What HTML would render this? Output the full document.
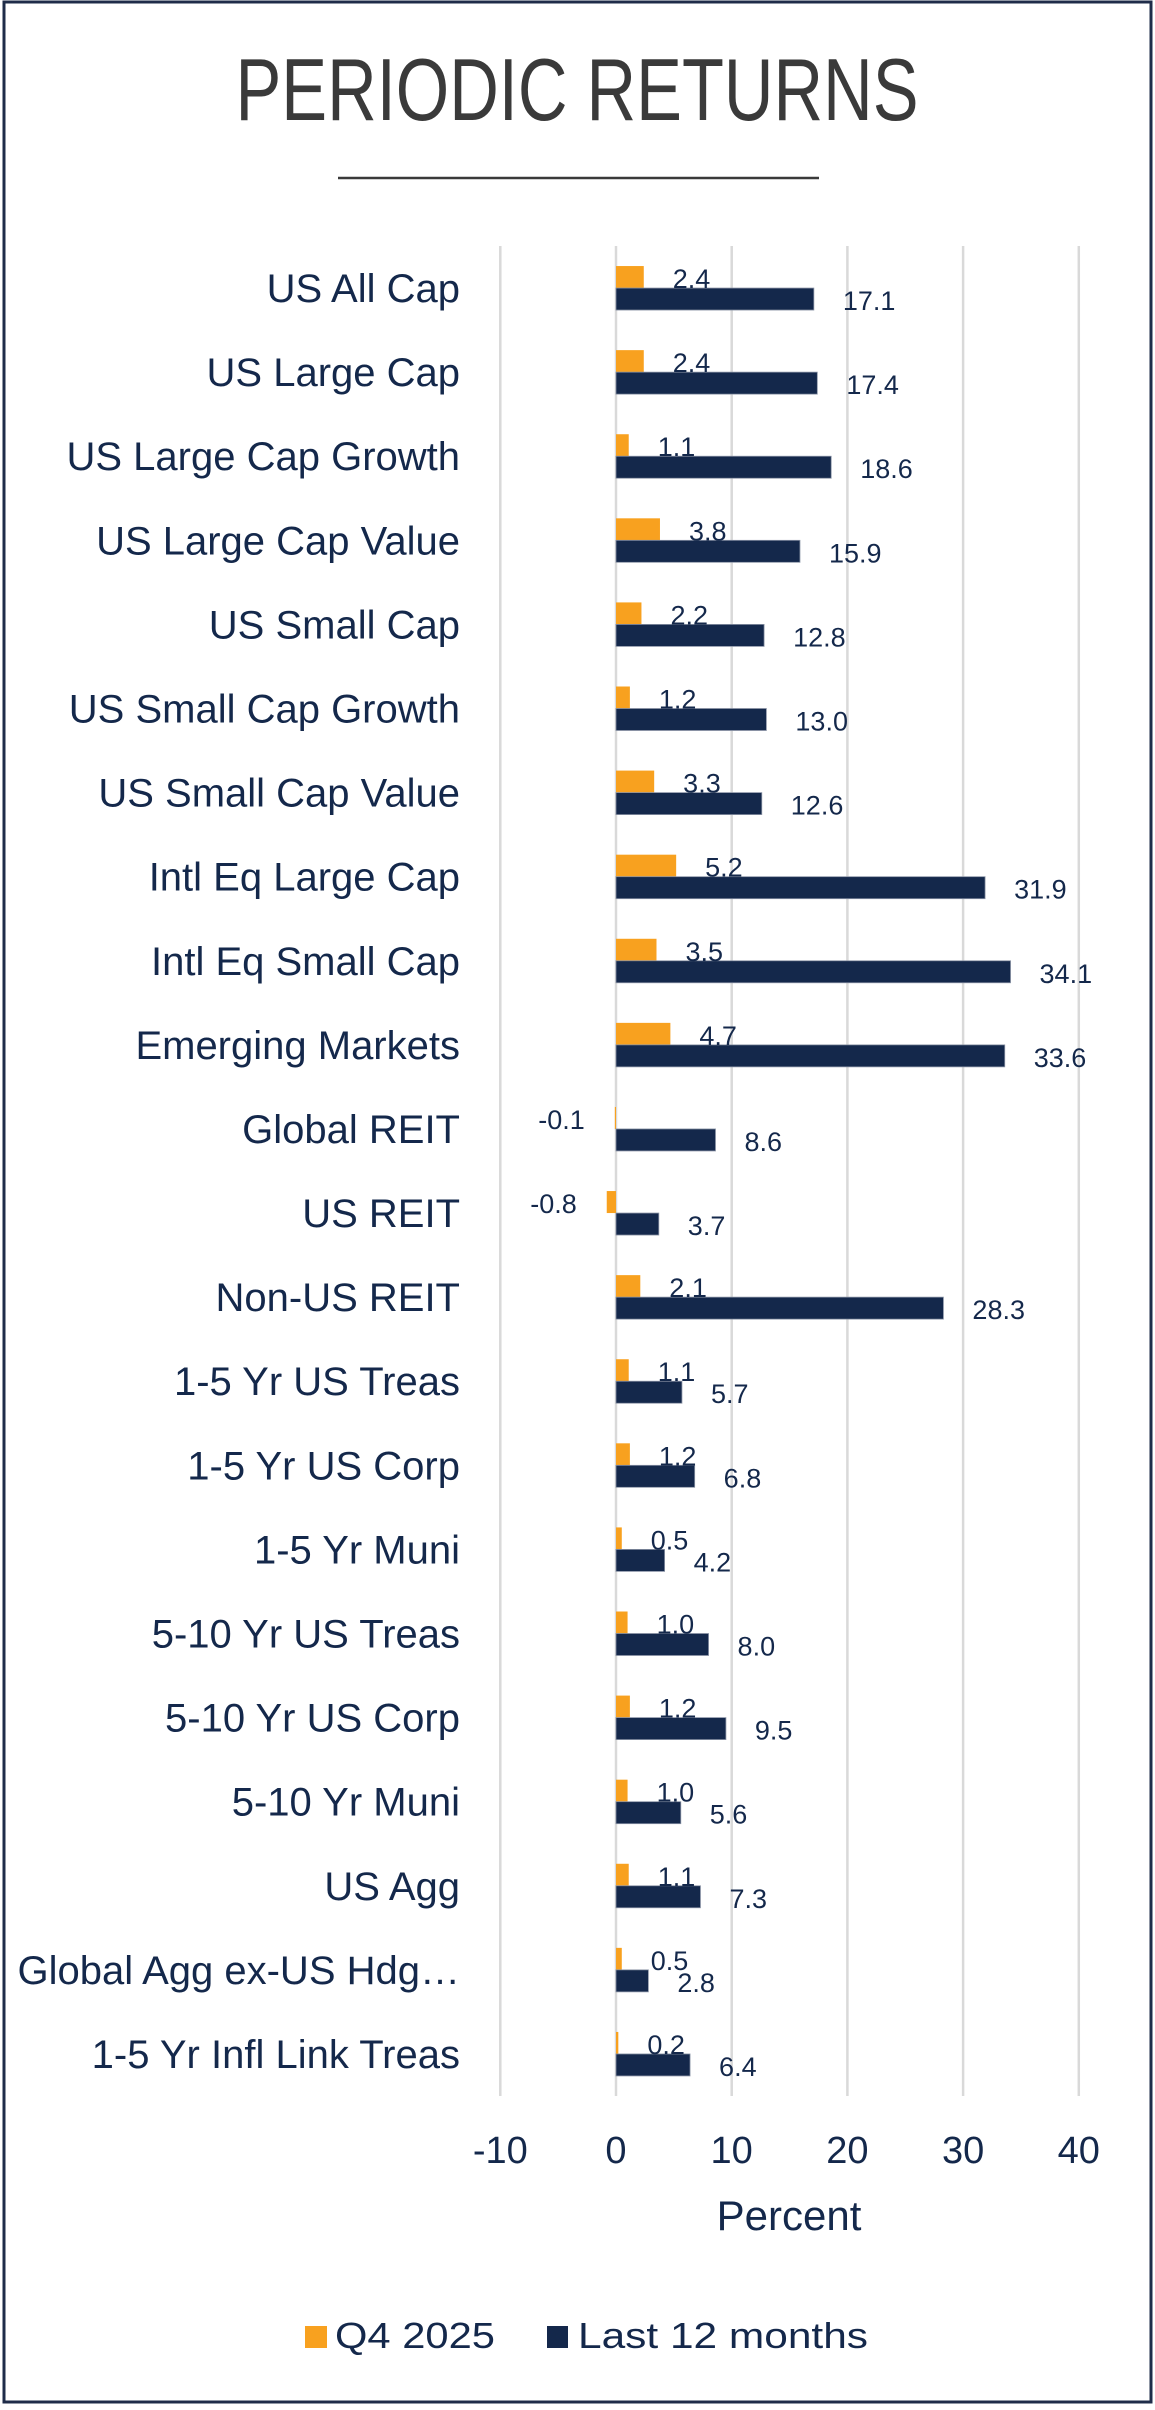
<!DOCTYPE html>
<html><head><meta charset="utf-8"><style>
html,body{margin:0;padding:0;background:#fff;}
svg{display:block;font-family:"Liberation Sans",sans-serif;}
</style></head><body>
<svg id="chart" width="1155" height="2410" viewBox="0 0 1155 2410">
  <rect x="4" y="2" width="1147" height="2400" fill="#fff" stroke="#1f2c49" stroke-width="3"/>
  <text x="577" y="120" text-anchor="middle" font-size="88" fill="#3a3a3a" textLength="683" lengthAdjust="spacingAndGlyphs">PERIODIC RETURNS</text>
  <line x1="338" y1="178" x2="819" y2="178" stroke="#3a3a3a" stroke-width="2.5"/>
  <g id="grid"></g>
  <g id="bars"></g>
  <g id="labels"></g>
  <text x="789" y="2230" text-anchor="middle" font-size="42" fill="#14284b">Percent</text>
  <rect x="305" y="2326" width="22" height="22" fill="#f8a11f"/>
  <text x="335" y="2348" font-size="36" fill="#14284b" textLength="160" lengthAdjust="spacingAndGlyphs">Q4 2025</text>
  <rect x="547" y="2326" width="21" height="22" fill="#14284b"/>
  <text x="578" y="2348" font-size="36" fill="#14284b" textLength="290" lengthAdjust="spacingAndGlyphs">Last 12 months</text>
</svg>
<script>
const categories = ["US All Cap","US Large Cap","US Large Cap Growth","US Large Cap Value","US Small Cap","US Small Cap Growth","US Small Cap Value","Intl Eq Large Cap","Intl Eq Small Cap","Emerging Markets","Global REIT","US REIT","Non-US REIT","1-5 Yr US Treas","1-5 Yr US Corp","1-5 Yr Muni","5-10 Yr US Treas","5-10 Yr US Corp","5-10 Yr Muni","US Agg","Global Agg ex-US Hdg…","1-5 Yr Infl Link Treas"];
const q4Values = [2.4,2.4,1.1,3.8,2.2,1.2,3.3,5.2,3.5,4.7,-0.1,-0.8,2.1,1.1,1.2,0.5,1.0,1.2,1.0,1.1,0.5,0.2];
const ltmValues = [17.1,17.4,18.6,15.9,12.8,13.0,12.6,31.9,34.1,33.6,8.6,3.7,28.3,5.7,6.8,4.2,8.0,9.5,5.6,7.3,2.8,6.4];
const xTicks = [-10,0,10,20,30,40];

const NS = "http://www.w3.org/2000/svg";
const plotTop = 246, plotBottom = 2096;
const xScale = v => 616 + v * 11.57;
const band = (plotBottom - plotTop) / categories.length;
const yCenter = i => plotTop + (i + 0.5) * band;
const barH = 22;

function mk(tag, attrs, parent) {
  const el = document.createElementNS(NS, tag);
  for (const k in attrs) el.setAttribute(k, attrs[k]);
  parent.appendChild(el);
  return el;
}
const grid = document.getElementById("grid");
const bars = document.getElementById("bars");
const labels = document.getElementById("labels");

xTicks.forEach(t => {
  const ln = mk("line", {x1: xScale(t), x2: xScale(t), y1: plotTop, y2: plotBottom, stroke: "#d9d9d9", "stroke-width": 2.5}, grid);
  
  
  const tx = mk("text", {x: xScale(t), y: 2163, "text-anchor": "middle", "font-size": 38, fill: "#14284b"}, grid);
  tx.textContent = String(t);
  
  
});

function fmt(v) { return v.toFixed(1); }

categories.forEach((c, i) => {
  const cy = yCenter(i);
  const cl = mk("text", {x: 460, y: cy + 14, "text-anchor": "end", "font-size": 40, fill: "#14284b"}, labels);
  cl.textContent = c;
  
  

  [[q4Values[i], "#f8a11f", cy - barH, "bar-q4"], [ltmValues[i], "#14284b", cy, "bar-ltm"]].forEach(([v, col, y, nm]) => {
    const x0 = Math.min(xScale(0), xScale(v));
    const w = Math.abs(xScale(v) - xScale(0));
    const r = mk("rect", {x: x0, y: y, width: w, height: barH, fill: col, stroke: nm === "bar-ltm" ? "#8a93a5" : "none", "stroke-width": 0.8}, bars);
    
    
    const lbl = mk("text", {y: y + barH / 2 + 11, "font-size": 27, fill: "#14284b"}, labels);
    if (v >= 0) { lbl.setAttribute("x", xScale(v) + 29); }
    else { lbl.setAttribute("x", xScale(v) - 30); lbl.setAttribute("text-anchor", "end"); }
    lbl.textContent = fmt(v);
    
    
  });
});
</script>
</body></html>
